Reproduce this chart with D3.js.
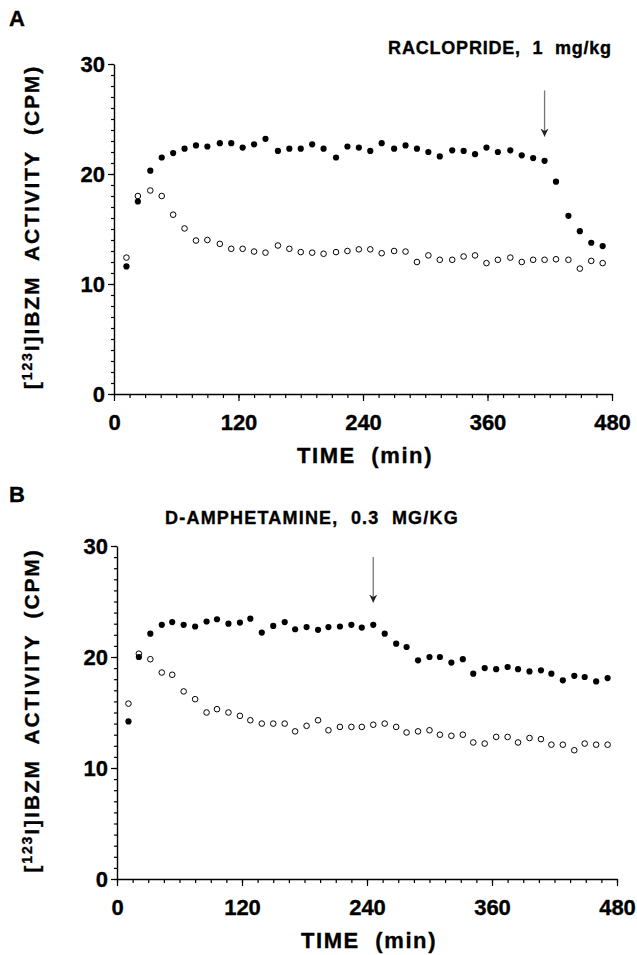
<!DOCTYPE html>
<html>
<head>
<meta charset="utf-8">
<script src="https://cdn.jsdelivr.net/npm/d3@7"></script>
<style>
  body { margin: 0; background: #fff; }
  svg text { font-family: "Liberation Sans", Arial, Helvetica, sans-serif; font-weight: bold; fill: #000;
             stroke: #000; stroke-width: 0.35px; }
</style>
</head>
<body>
<div id="chart"></div>
<script>
// sampling times (min)
const timesA = [12, 23, 35, 46, 57, 68, 79, 90, 102, 113, 124, 135, 146, 158, 169, 180, 191, 202, 214, 225, 236,
                247, 258, 270, 281, 292, 303, 314, 326, 337, 348, 359, 370, 382, 393, 404, 415, 426, 438, 449, 460, 471];
// panel A - raclopride
const raclFilled = [11.6, 17.5, 20.3, 21.5, 21.9, 22.3, 22.6, 22.5, 22.8, 22.8, 22.4, 22.7, 23.2, 22.1, 22.3, 22.3, 22.7,
                    22.3, 21.5, 22.5, 22.4, 22.1, 22.8, 22.3, 22.6, 22.3, 22.0, 21.6, 22.15, 22.1, 21.8, 22.4, 22.0, 22.15,
                    21.7, 21.45, 21.2, 19.3, 16.2, 14.8, 13.75, 13.45];
const raclOpen = [12.4, 18.0, 18.5, 18.0, 16.3, 15.05, 13.95, 14.0, 13.65, 13.2, 13.2, 12.95, 12.85, 13.5, 13.2, 12.9, 12.85,
                  12.75, 12.9, 13.0, 13.15, 13.15, 12.8, 13.0, 12.95, 12.0, 12.6, 12.2, 12.2, 12.5, 12.6, 11.9, 12.2, 12.4,
                  12.0, 12.2, 12.2, 12.25, 12.2, 11.4, 12.1, 11.9];

const timesB = [11, 21, 32, 43, 53, 64, 75, 86, 96, 107, 118, 128, 139, 150, 161, 171, 182, 193, 203, 214, 225, 235,
                246, 257, 268, 278, 289, 300, 310, 321, 332, 342, 353, 364, 375, 385, 396, 407, 417, 428, 439, 449, 460, 471];
// panel B - d-amphetamine
const amphFilled = [14.2, 20.0, 22.1, 22.9, 23.15, 22.9, 22.75, 23.2, 23.4, 23.0, 23.1, 23.45, 22.2, 22.8, 23.15, 22.5,
                    22.7, 22.45, 22.7, 22.75, 22.9, 22.65, 22.9, 22.1, 21.2, 20.9, 19.7, 20.0, 20.0, 19.5, 19.8, 18.5,
                    19.0, 18.9, 19.1, 18.9, 18.7, 18.8, 18.5, 17.9, 18.3, 18.2, 17.8, 18.1];
const amphOpen = [15.8, 20.3, 19.8, 18.6, 18.4, 16.9, 16.2, 15.0, 15.3, 15.0, 14.7, 14.3, 14.0, 14.0, 14.0, 13.3, 13.8,
                  14.3, 13.4, 13.7, 13.7, 13.7, 13.9, 14.0, 13.7, 13.2, 13.3, 13.4, 13.0, 12.9, 13.0, 12.3, 12.2, 12.8,
                  12.8, 12.3, 12.7, 12.6, 12.1, 12.1, 11.6, 12.2, 12.1, 12.1];

const xTicks = [0, 120, 240, 360, 480];
const yTicks = [0, 10, 20, 30];

// arrows: time of injection, top and tip in cpm units
const arrowA = { time: 415, top: 27.6, tip: 23.4 };
const arrowB = { time: 246, top: 29.0, tip: 24.9 };

const width = 637, height = 955;
const svg = d3.select("#chart").append("svg")
  .attr("width", width).attr("height", height);

svg.append("defs").append("marker")
  .attr("id", "head")
  .attr("viewBox", "0 0 10 10")
  .attr("refX", 10).attr("refY", 5)
  .attr("markerWidth", 8).attr("markerHeight", 10)
  .attr("markerUnits", "userSpaceOnUse")
  .attr("orient", "auto")
  .append("path")
  .attr("d", "M0,0 L10,5 L0,10 L3,5 Z")
  .attr("fill", "#222");

function drawPanel(opts) {
  const x = d3.scaleLinear().domain([0, 480]).range(opts.xRange);
  const y = d3.scaleLinear().domain([0, 30]).range(opts.yRange);
  const g = svg.append("g");

  // minor ticks
  g.append("g")
    .attr("transform", `translate(0,${opts.yRange[0]})`)
    .call(d3.axisBottom(x).tickValues(d3.range(0, 481, 15)).tickSize(4).tickFormat(""))
    .call(a => a.select(".domain").remove());
  g.append("g")
    .attr("transform", `translate(${opts.xRange[0]},0)`)
    .call(d3.axisLeft(y).tickValues(d3.range(0, 31, 1)).tickSize(3).tickFormat(""))
    .call(a => a.select(".domain").remove());

  // major axes
  const xa = g.append("g")
    .attr("transform", `translate(0,${opts.yRange[0]})`)
    .call(d3.axisBottom(x).tickValues(xTicks).tickSize(7).tickPadding(13).tickSizeOuter(0));
  const ya = g.append("g")
    .attr("transform", `translate(${opts.xRange[0]},0)`)
    .call(d3.axisLeft(y).tickValues(yTicks).tickSize(6).tickPadding(3).tickSizeOuter(0));
  [xa, ya].forEach(a => {
    a.attr("font-family", null).attr("font-size", null);
    a.selectAll("text").style("font-size", "22px");
    a.selectAll("line, path").attr("stroke", "#000").attr("stroke-width", 1.4);
  });
  g.selectAll("line").attr("stroke", "#000").attr("stroke-width", 1.2);

  // points
  g.append("g").selectAll("circle")
    .data(opts.open).join("circle")
    .attr("cx", (d, i) => x(opts.times[i]))
    .attr("cy", d => y(d))
    .attr("r", 2.8)
    .attr("fill", "#fff").attr("stroke", "#000").attr("stroke-width", 1);
  g.append("g").selectAll("circle")
    .data(opts.filled).join("circle")
    .attr("cx", (d, i) => x(opts.times[i]))
    .attr("cy", d => y(d))
    .attr("r", 3.1)
    .attr("fill", "#000");

  // arrow marking the drug injection
  g.append("line")
    .attr("x1", x(opts.arrow.time)).attr("x2", x(opts.arrow.time))
    .attr("y1", y(opts.arrow.top)).attr("y2", y(opts.arrow.tip))
    .attr("stroke", "#777").attr("stroke-width", 1.3)
    .attr("marker-end", "url(#head)");

  // texts
  svg.append("text").attr("x", 9).attr("y", opts.letterY)
    .style("font-size", "22px").text(opts.letter);
  svg.append("text").attr("x", opts.titleX).attr("y", opts.titleY)
    .attr("text-anchor", "middle")
    .style("font-size", "18px").style("letter-spacing", opts.titleSpacing).style("white-space", "pre")
    .text(opts.title);
  svg.append("text")
    .attr("x", (opts.xRange[0] + opts.xRange[1]) / 2 + 2)
    .attr("y", opts.yRange[0] + 69)
    .attr("text-anchor", "middle")
    .style("font-size", "22px").style("letter-spacing", "1.6px").style("white-space", "pre")
    .text("TIME  (min)");

  const yl = svg.append("text")
    .attr("transform", `translate(39,${(opts.yRange[0] + opts.yRange[1]) / 2 - 2}) rotate(-90)`)
    .attr("text-anchor", "middle")
    .style("font-size", "21px").style("letter-spacing", "1.9px").style("white-space", "pre");
  yl.append("tspan").text("[");
  yl.append("tspan").attr("dy", -7).style("font-size", "14px").text("123");
  yl.append("tspan").attr("dy", 7).text("I]IBZM  ACTIVITY  (CPM)");
}

drawPanel({
  letter: "A", letterY: 26,
  title: "RACLOPRIDE,  1  mg/kg", titleX: 500, titleSpacing: "0.8px", titleY: 54,
  xRange: [114, 612], yRange: [394, 64],
  times: timesA, filled: raclFilled, open: raclOpen, arrow: arrowA
});
drawPanel({
  letter: "B", letterY: 502,
  title: "D-AMPHETAMINE,  0.3  MG/KG", titleX: 312, titleSpacing: "1.2px", titleY: 524,
  xRange: [117, 617], yRange: [879, 546],
  times: timesB, filled: amphFilled, open: amphOpen, arrow: arrowB
});
</script>
</body>
</html>
